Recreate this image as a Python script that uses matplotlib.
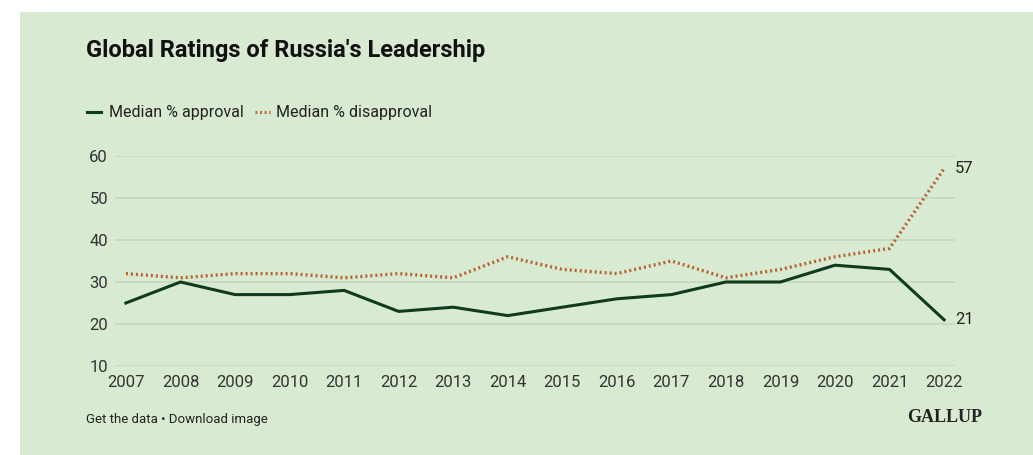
import matplotlib
matplotlib.use("Agg")
import matplotlib.pyplot as plt
from matplotlib.patches import Rectangle
from matplotlib.lines import Line2D

years = [2007, 2008, 2009, 2010, 2011, 2012, 2013, 2014, 2015, 2016, 2017, 2018, 2019, 2020, 2021, 2022]
approval = [25, 30, 27, 27, 28, 23, 24, 22, 24, 26, 27, 30, 30, 34, 33, 21]
disapproval = [32, 31, 32, 32, 31, 32, 31, 36, 33, 32, 35, 31, 33, 36, 38, 57]
yticks = [10, 20, 30, 40, 50, 60]

W, H = 1033, 455
bg = "#d8ead1"
green = "#0e3b20"
orange = "#b8622f"
grid = "#c3d9bd"
txt = "#222222"

fig = plt.figure(figsize=(W / 100, H / 100), dpi=100)
fig.patch.set_facecolor("white")
fig.patches.append(Rectangle((20 / W, 0), 1 - 20 / W, 1 - 12 / H, transform=fig.transFigure,
                             facecolor=bg, edgecolor="none", zorder=-10))

ax = fig.add_axes([115 / W, 1 - 366 / H, (955 - 115) / W, (366 - 156) / H])
ax.set_facecolor("none")
ax.set_xlim(2006.8, 2022.2)
ax.set_ylim(10, 60)
for s in ax.spines.values():
    s.set_visible(False)
ax.set_yticks(yticks)
ax.set_xticks(years)
ax.grid(axis="y", color=grid, linewidth=1.2)
ax.set_axisbelow(True)
ax.tick_params(length=0, labelsize=12, colors="#333333")
ax.tick_params(axis="y", pad=5)
ax.tick_params(axis="x", pad=6.5)
for lab in ax.get_yticklabels() + ax.get_xticklabels():
    lab.set_family("Roboto")

ax.plot(years, disapproval, color=orange, linewidth=2.4, linestyle=(0, (0.6, 0.9)),
        dash_capstyle="butt", zorder=3)
ax.plot(years, approval, color=green, linewidth=2.2, zorder=4, solid_joinstyle="round")
ax.annotate(str(disapproval[-1]), (years[-1], disapproval[-1]), xytext=(8, 0), textcoords="offset points",
            va="center", ha="left", fontsize=12, color=txt, family="Roboto")
ax.annotate(str(approval[-1]), (years[-1], approval[-1]), xytext=(8, 0), textcoords="offset points",
            va="center", ha="left", fontsize=12, color=txt, family="Roboto")

fig.text(86 / W, 1 - 51 / H, "Global Ratings of Russia's Leadership", fontsize=17, fontweight="bold",
         family="Roboto", color="#111111", va="center", ha="left")

# legend
ly = 1 - 112 / H
fig.lines.append(Line2D([87 / W, 101 / W], [ly, ly], transform=fig.transFigure, color=green, linewidth=2.2))
fig.text(109 / W, ly, "Median % approval", fontsize=11.5, family="Roboto", color=txt, va="center", ha="left")
fig.lines.append(Line2D([255 / W, 270 / W], [ly, ly], transform=fig.transFigure, color=orange, linewidth=2.2,
                        linestyle=(0, (0.6, 0.9))))
fig.text(276 / W, ly, "Median % disapproval", fontsize=11.5, family="Roboto", color=txt, va="center", ha="left")

fig.text(86 / W, 1 - 420 / H, "Get the data \u2022 Download image", fontsize=9.5, family="Roboto",
         color=txt, va="center", ha="left")
fig.text(982 / W, 1 - 418 / H, "GALLUP", fontsize=13, fontweight="bold", family="Liberation Serif",
         color="#222222", va="center", ha="right")

fig.savefig("out.png", dpi=100, facecolor=fig.get_facecolor())
